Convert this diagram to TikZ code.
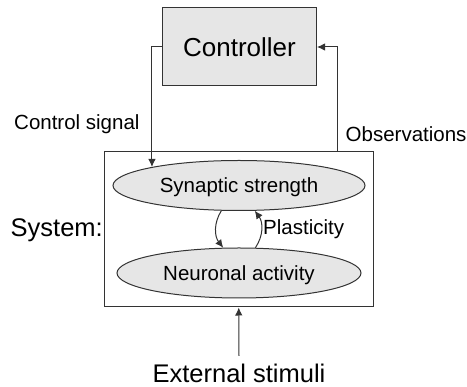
\documentclass[tikz,border=0pt]{standalone}
\usepackage{fontspec}
\setmainfont{Liberation Sans}
\usetikzlibrary{arrows.meta,shapes.geometric}
\definecolor{boxfill}{HTML}{E6E6E6}
\definecolor{linecol}{HTML}{333333}
\tikzset{
  conn/.style={draw=linecol, line width=1pt, -{Latex[length=8pt,width=7.5pt]}},
  blockbox/.style={draw=linecol, line width=1pt, fill=boxfill, rectangle, inner sep=0pt},
  statebox/.style={draw=linecol, line width=1pt, fill=boxfill, ellipse, inner sep=0pt,
    text depth=0pt, font=\fontsize{20.5}{24}\selectfont},
  lbl/.style={inner sep=0pt, font=\fontsize{20.5}{24}\selectfont},
  biglbl/.style={inner sep=0pt, font=\fontsize{25.5}{30}\selectfont},
}
\begin{document}
\begin{tikzpicture}[x=1pt, y=-1pt]
  \useasboundingbox (0,0) rectangle (467,387);

  % controller block
  \node[blockbox, minimum width=154pt, minimum height=78pt,
        font=\fontsize{26}{30}\selectfont] (ctrl) at (239.5,47) {Controller};

  % system enclosure
  \node[draw=linecol, line width=1pt, rectangle, inner sep=0pt,
        minimum width=268.5pt, minimum height=155pt] (sys) at (238.75,229.5) {};

  % internal states
  \node[statebox, minimum width=252pt, minimum height=50pt] (syn) at (239,185.5) {Synaptic strength};
  \node[statebox, minimum width=244pt, minimum height=50pt] (neu) at (239,273) {Neuronal activity};

  % labels
  \node[biglbl, anchor=base east] (syslbl) at (103,236.7) {System:};
  \node[lbl, anchor=base west] (ctrllbl) at (14,130) {Control signal};
  \node[lbl, anchor=base west] (obslbl) at (345.5,142) {Observations};
  \node[lbl, anchor=base west] (plast) at (263,235) {Plasticity};
  \node[biglbl, anchor=base] (ext) at (239,382.5) {External stimuli};

  % feedback loop
  \draw[conn] (ctrl.west) -| (syn.168.6);
  \draw[conn] ([xshift=-36pt]sys.north east) |- (ctrl.east);

  % coupling between the two states
  \draw[conn] (syn.235) to[bend right=35] (neu.122);
  \draw[conn] (neu.57) to[bend right=35] (syn.302);

  % external input
  \draw[conn] ([yshift=8pt]ext.north) -- (sys.south);
\end{tikzpicture}
\end{document}
